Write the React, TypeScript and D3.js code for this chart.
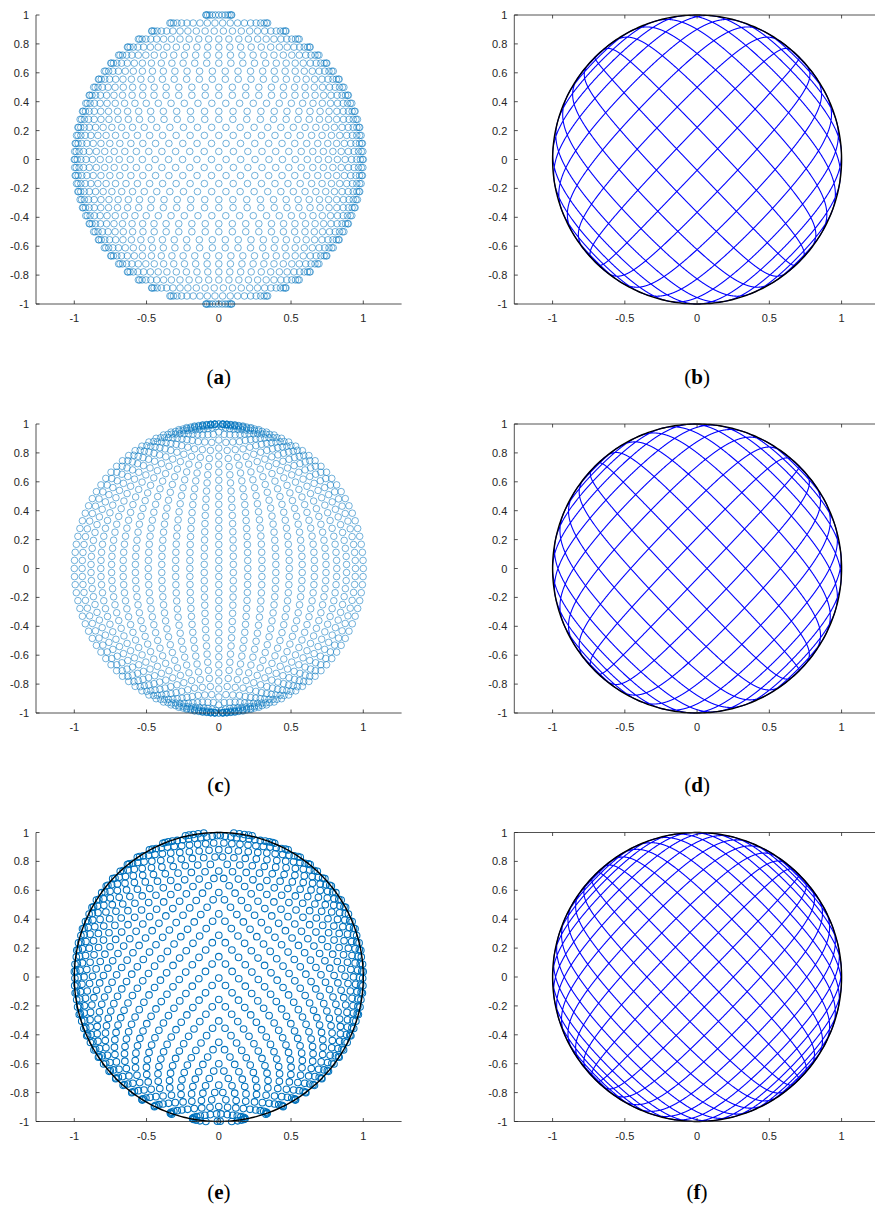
import React from "react";
import * as d3 from "d3";

const W = 875;
const H = 1206;

// ---- axis ticks ----
const xTickValues = [-1, -0.5, 0, 0.5, 1];
const yTickValues = [-1, -0.8, -0.6, -0.4, -0.2, 0, 0.2, 0.4, 0.6, 0.8, 1];
const xDomain = [-1.265, 1.265];
const yDomain = [-1, 1];

// ---- panels (row-major: a b / c d / e f) ----
const panelLabels = ["a", "b", "c", "d", "e", "f"];
const panelKinds = ["points", "curve", "points", "curve", "points", "curve"];

// point-set panels (a, c, e)
const pointRows = [36, 0, 27];
const pointCols = [31, 24, 34];
const pointRowMode = ["rows", "meridians", "chevron"];
const pointWidthPower = [0.4, 0, 0];
const pointArcStep = [0, 0.056, 0];
const meridianBend = [0, Math.PI / 3, 0];
const chevronSlope = [0, 0, 0.5];
const pointWithCircle = [false, false, true];

// curve panels (b, d, f): degenerate Lissajous frequencies (square -> disk)
const curveFreqU = [21, 22, 30];
const curveFreqV = [22, 23, 31];

// ---- layout ----
const colLeft = [36, 514.3];
const rowTop = [15, 424, 832.5];
const plotH = 289;
const unit = plotH / (yDomain[1] - yDomain[0]);
const plotW = (xDomain[1] - xDomain[0]) * unit;
const captionY = [384, 792, 1199];
const axisColor = "#262626";

function rowWidth(y: number) {
  return Math.sqrt(Math.max(0, 1 - 0.992 * y * y));
}

function buildPoints(i: number) {
  const R = pointRows[i];
  const C = pointCols[i];
  const mode = pointRowMode[i];
  const pts: [number, number][] = [];
  const seen = new Set<string>();
  const push = (x: number, y: number) => {
    const key = x.toFixed(4) + "," + y.toFixed(4);
    if (!seen.has(key)) {
      seen.add(key);
      pts.push([x, y]);
    }
  };
  if (mode === "meridians") {
    const sp = pointArcStep[i];
    const al = meridianBend[i];
    const M = 2000;
    for (let k = 0; k <= C; k++) {
      const sk = -1 + (2 * k) / C;
      const c = Math.sin(al * sk) / Math.sin(al);
      const psi: number[] = [];
      const len: number[] = [];
      let acc = 0;
      let px = 0;
      let py = -1;
      for (let m = 0; m <= M; m++) {
        const ps = -Math.PI / 2 + (m / M) * Math.PI;
        const qx = c * Math.cos(ps);
        const qy = Math.sin(ps);
        if (m > 0) acc += Math.hypot(qx - px, qy - py);
        psi.push(ps);
        len.push(acc);
        px = qx;
        py = qy;
      }
      const total = acc;
      const n = Math.max(1, Math.round(total / sp));
      const step = total / n;
      const off = (k % 2) * 0.5;
      for (let q = 0; q <= n; q++) {
        const s = (q + off) * step;
        if (s > total + 1e-9) continue;
        const idx = Math.min(M, Math.max(1, d3.bisectLeft(len, s)));
        const l0 = len[idx - 1];
        const l1 = len[idx];
        const f = l1 > l0 ? (s - l0) / (l1 - l0) : 0;
        const ps = psi[idx - 1] + f * (psi[idx] - psi[idx - 1]);
        push(c * Math.cos(ps), Math.sin(ps));
      }
    }
    return pts;
  }
  if (mode === "chevron") {
    const s = chevronSlope[i];
    const lift = s * (Math.PI / 2);
    const h = 2 / R;
    for (let j = 0; ; j++) {
      const base = -1 - lift + j * h;
      if (base > 1) break;
      const off = (j % 2) * 0.5;
      for (let k = 0; k <= C; k++) {
        const th = ((k + off) * Math.PI) / C;
        if (th > Math.PI + 1e-9) continue;
        const y = base + s * Math.abs(th - Math.PI / 2);
        if (y < -1 - 1e-9 || y > 1 + 1e-9) continue;
        push(rowWidth(y) * Math.cos(th), y);
      }
    }
    return pts;
  }
  const p = pointWidthPower[i];
  for (let j = 0; j <= R; j++) {
    const y = -1 + (2 * j) / R;
    const w = rowWidth(y);
    const Cj = Math.max(1, Math.round(C * Math.pow(w, p)));
    const off = (j % 2) * 0.5;
    for (let k = 0; k <= Cj; k++) {
      const th = ((k + off) * Math.PI) / Cj;
      if (th > Math.PI + 1e-9) continue;
      push(w * Math.cos(th), y);
    }
  }
  return pts;
}

function buildCurve(i: number) {
  const a = curveFreqU[i];
  const b = curveFreqV[i];
  const N = 30000;
  const pts: [number, number][] = [];
  for (let n = 0; n <= N; n++) {
    const t = (n / N) * Math.PI;
    const u = Math.cos(a * t);
    const v = Math.cos(b * t);
    pts.push([u * Math.sqrt(1 - (v * v) / 2), v * Math.sqrt(1 - (u * u) / 2)]);
  }
  return pts;
}

function fmt(v: number) {
  return String(Math.round(v * 10) / 10);
}

function Panel({ idx }: { idx: number }) {
  const row = Math.floor(idx / 2);
  const col = idx % 2;
  const kind = panelKinds[idx];
  const left = colLeft[col];
  const top = rowTop[row];
  const x = d3.scaleLinear().domain(xDomain).range([left, left + plotW]);
  const y = d3.scaleLinear().domain(yDomain).range([top + plotH, top]);
  const boxed = kind === "curve";
  const sub = row;
  const circlePath = d3
    .line<number>()
    .x((t) => x(Math.cos(t)))
    .y((t) => y(Math.sin(t)))(d3.range(0, 361).map((d) => (d * Math.PI) / 180));

  let content: React.ReactNode = null;
  if (kind === "points") {
    const pts = buildPoints(sub);
    const outlined = pointWithCircle[sub];
    content = (
      <g>
        <g
          fill="none"
          stroke="#0072BD"
          strokeWidth={outlined ? 1.05 : 0.65}
          strokeOpacity={outlined ? 1 : 0.85}
        >
          {pts.map((p, k) => (
            <circle key={k} cx={x(p[0])} cy={y(p[1])} r={3.3} />
          ))}
        </g>
        {outlined && <path d={circlePath || ""} fill="none" stroke="#000" strokeWidth={1.4} />}
      </g>
    );
  } else {
    const pts = buildCurve(sub);
    const line = d3
      .line<[number, number]>()
      .x((p) => x(p[0]))
      .y((p) => y(p[1]));
    content = (
      <g>
        <path d={line(pts) || ""} fill="none" stroke="#0000ff" strokeWidth={1.1} />
        <path d={circlePath || ""} fill="none" stroke="#000" strokeWidth={1.4} />
      </g>
    );
  }

  const bottom = top + plotH;
  const right = left + plotW;
  const tl = 3.5;
  return (
    <g>
      {content}
      <g stroke={axisColor} strokeWidth={0.8} fill="none">
        <line x1={left} y1={bottom} x2={right} y2={bottom} />
        <line x1={left} y1={top} x2={left} y2={bottom} />
        {boxed && <line x1={left} y1={top} x2={right} y2={top} />}
        {boxed && <line x1={right} y1={top} x2={right} y2={bottom} />}
        {xTickValues.map((v) => (
          <g key={"xt" + v}>
            <line x1={x(v)} x2={x(v)} y1={bottom} y2={bottom - tl} />
            {boxed && <line x1={x(v)} x2={x(v)} y1={top} y2={top + tl} />}
          </g>
        ))}
        {yTickValues.map((v) => (
          <g key={"yt" + v}>
            <line x1={left} x2={left + tl} y1={y(v)} y2={y(v)} />
            {boxed && <line x1={right} x2={right - tl} y1={y(v)} y2={y(v)} />}
          </g>
        ))}
      </g>
      <g fill={axisColor} fontFamily="Liberation Sans, Arial, sans-serif" fontSize={11}>
        {xTickValues.map((v) => (
          <text key={"xl" + v} x={x(v)} y={bottom + 18} textAnchor="middle">
            {fmt(v)}
          </text>
        ))}
        {yTickValues.map((v) => (
          <text key={"yl" + v} x={left - 7} y={y(v) + 4} textAnchor="end">
            {fmt(v)}
          </text>
        ))}
      </g>
      <text
        x={(left + right) / 2}
        y={captionY[row]}
        textAnchor="middle"
        fontFamily="Liberation Serif, serif"
        fontSize={21}
        fill="#000"
      >
        (<tspan fontWeight="bold">{panelLabels[idx]}</tspan>)
      </text>
    </g>
  );
}

export default function App() {
  return (
    <svg
      width={W}
      height={H}
      viewBox={`0 0 ${W} ${H}`}
      style={{ position: "absolute", left: 0, top: 0, display: "block", background: "#fff" }}
    >
      <rect x={0} y={0} width={W} height={H} fill="#fff" />
      {panelLabels.map((_, i) => (
        <Panel key={i} idx={i} />
      ))}
    </svg>
  );
}
